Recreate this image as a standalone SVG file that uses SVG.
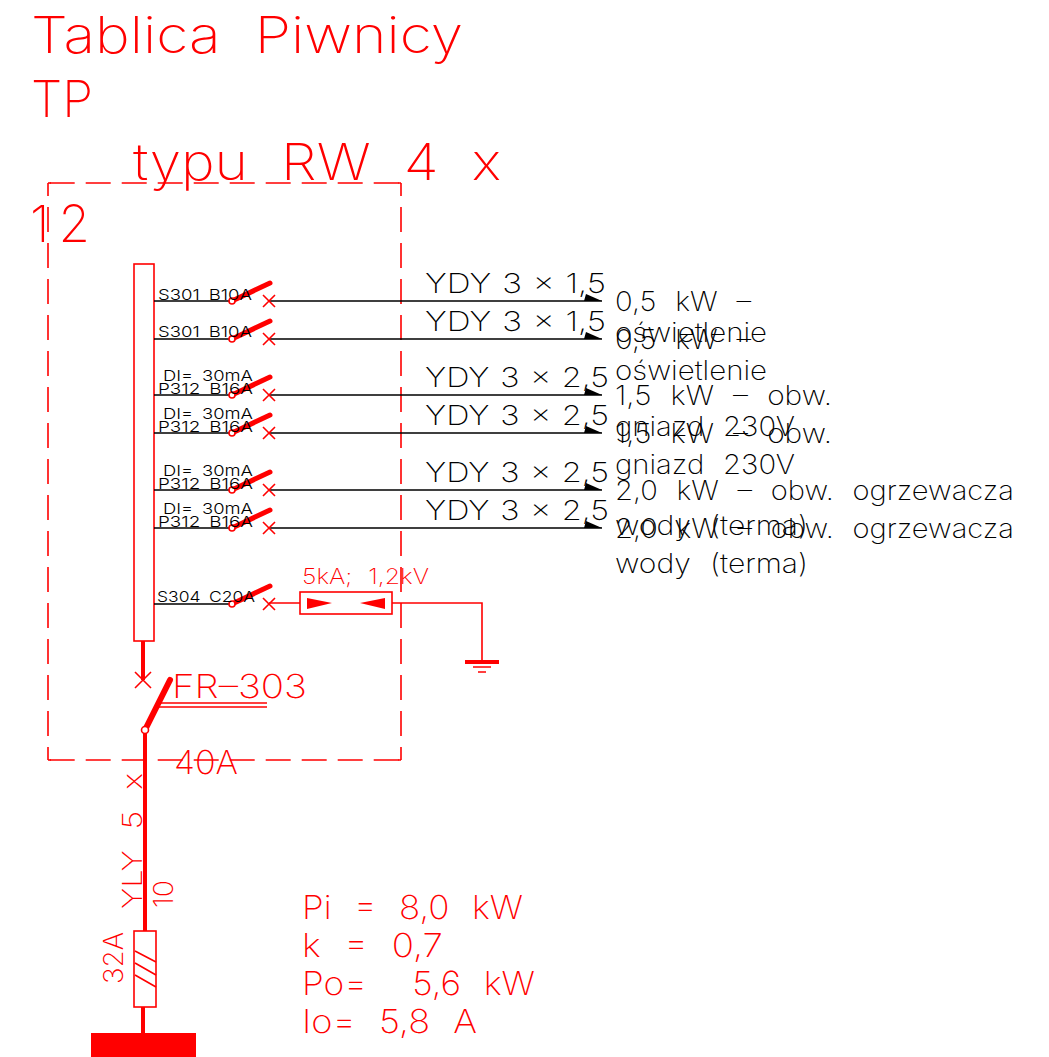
<svg xmlns="http://www.w3.org/2000/svg" width="1049" height="1057" viewBox="0 0 1049 1057">
<defs>
<style>
text{font-family:"Inter","Liberation Sans",Arial,sans-serif;font-weight:200;white-space:pre;word-spacing:.36em}
.r{fill:#ff0000}.k{fill:#000}
.t50{font-size:51px;word-spacing:.3em}.t35{font-size:33px}.t27{font-size:27px}.t21{font-size:21px}.t15{font-size:15px;font-weight:300;word-spacing:.2em}
.ydy{word-spacing:.05em}.tot{word-spacing:.36em}
.rl{stroke:#ff0000;fill:none;stroke-width:1.6}
.kl{stroke:#000;fill:none;stroke-width:1.5}
.dash{stroke:#ff0000;fill:none;stroke-width:1.6;stroke-dasharray:25 11}
.blade{stroke:#ff0000;fill:none;stroke-width:5;stroke-linecap:round}
.cut{stroke:#ff0000;fill:none;stroke-width:1.6}
.pivot{fill:#fff;stroke:#ff0000;stroke-width:1.6}
</style>
<g id="sw"><line class="blade" x1="232" y1="0" x2="270" y2="-18"/><circle class="pivot" cx="232" cy="0" r="3"/><path class="cut" d="M263 -6L275 6M263 6L275 -6"/></g>
<path id="ah" d="M584 0L586 -7L602 0Z" fill="#000"/>
</defs>
<g id="title">
<text class="r t50" x="31" y="53" textLength="432" lengthAdjust="spacingAndGlyphs">Tablica Piwnicy</text>
<text class="r t50" x="31" y="117" textLength="62" lengthAdjust="spacingAndGlyphs">TP</text>
<text class="r t50" x="133" y="180" textLength="368" lengthAdjust="spacingAndGlyphs">typu RW 4 x</text>
<text class="r t50" x="30" y="242" textLength="60" lengthAdjust="spacing">12</text>
</g>
<g id="enclosure">
<path class="dash" stroke-dashoffset="34.3" d="M48 183H401M48 760H401"/>
<path class="dash" stroke-dashoffset="12" d="M48 183V760M401 183V760"/>
<path class="rl" d="M48 183h3M398 183h3M48 760h3M398 760h3"/>
</g>
<g id="busbar"><rect class="rl" x="134" y="264" width="20" height="377"/></g>
<g id="connectors">
<path class="kl" d="M154 301H232M269 301H602M154 339H232M269 339H602M154 395H232M269 395H602M154 433H232M269 433H602M154 490H232M269 490H602M154 528H232M269 528H602M154 604H232"/>
<path class="rl" d="M269 603H300M392 603H482V662"/>
<path class="rl" style="stroke-width:4" d="M143 641V680M145 733V931M143 1007V1033"/>
<use href="#ah" y="301"/><use href="#ah" y="339"/><use href="#ah" y="395"/><use href="#ah" y="433"/><use href="#ah" y="490"/><use href="#ah" y="528"/>
</g>
<g id="c1"><use href="#sw" y="301"/><text class="k t15" x="158" y="300" textLength="94" lengthAdjust="spacingAndGlyphs">S301 B10A</text>
<text class="k t27 ydy" x="425" y="293" textLength="181" lengthAdjust="spacingAndGlyphs">YDY 3 x 1,5</text>
<text class="k t27" x="615" y="311" textLength="136" lengthAdjust="spacingAndGlyphs">0,5 kW –</text><text class="k t27" x="615" y="342" textLength="152" lengthAdjust="spacingAndGlyphs">oświetlenie</text></g>
<g id="c2"><use href="#sw" y="339"/><text class="k t15" x="158" y="337" textLength="94" lengthAdjust="spacingAndGlyphs">S301 B10A</text>
<text class="k t27 ydy" x="425" y="331" textLength="181" lengthAdjust="spacingAndGlyphs">YDY 3 x 1,5</text>
<text class="k t27" x="615" y="349" textLength="136" lengthAdjust="spacingAndGlyphs">0,5 kW –</text><text class="k t27" x="615" y="380" textLength="152" lengthAdjust="spacingAndGlyphs">oświetlenie</text></g>
<g id="c3"><use href="#sw" y="395"/><text class="k t15" x="163" y="381" textLength="90" lengthAdjust="spacingAndGlyphs">DI= 30mA</text><text class="k t15" x="158" y="394" textLength="95" lengthAdjust="spacingAndGlyphs">P312 B16A</text>
<text class="k t27 ydy" x="425" y="387" textLength="184" lengthAdjust="spacingAndGlyphs">YDY 3 x 2,5</text>
<text class="k t27" x="615" y="405" textLength="217" lengthAdjust="spacingAndGlyphs">1,5 kW – obw.</text><text class="k t27" x="615" y="436" textLength="180" lengthAdjust="spacingAndGlyphs">gniazd 230V</text></g>
<g id="c4"><use href="#sw" y="433"/><text class="k t15" x="163" y="419" textLength="90" lengthAdjust="spacingAndGlyphs">DI= 30mA</text><text class="k t15" x="158" y="432" textLength="95" lengthAdjust="spacingAndGlyphs">P312 B16A</text>
<text class="k t27 ydy" x="425" y="425" textLength="184" lengthAdjust="spacingAndGlyphs">YDY 3 x 2,5</text>
<text class="k t27" x="615" y="443" textLength="217" lengthAdjust="spacingAndGlyphs">1,5 kW – obw.</text><text class="k t27" x="615" y="474" textLength="180" lengthAdjust="spacingAndGlyphs">gniazd 230V</text></g>
<g id="c5"><use href="#sw" y="490"/><text class="k t15" x="163" y="476" textLength="90" lengthAdjust="spacingAndGlyphs">DI= 30mA</text><text class="k t15" x="158" y="489" textLength="95" lengthAdjust="spacingAndGlyphs">P312 B16A</text>
<text class="k t27 ydy" x="425" y="482" textLength="184" lengthAdjust="spacingAndGlyphs">YDY 3 x 2,5</text>
<text class="k t27" x="615" y="500" textLength="399" lengthAdjust="spacingAndGlyphs">2,0 kW – obw. ogrzewacza</text><text class="k t27" x="615" y="535" textLength="193" lengthAdjust="spacingAndGlyphs">wody (terma)</text></g>
<g id="c6"><use href="#sw" y="528"/><text class="k t15" x="163" y="514" textLength="90" lengthAdjust="spacingAndGlyphs">DI= 30mA</text><text class="k t15" x="158" y="527" textLength="95" lengthAdjust="spacingAndGlyphs">P312 B16A</text>
<text class="k t27 ydy" x="425" y="520" textLength="184" lengthAdjust="spacingAndGlyphs">YDY 3 x 2,5</text>
<text class="k t27" x="615" y="538" textLength="399" lengthAdjust="spacingAndGlyphs">2,0 kW – obw. ogrzewacza</text><text class="k t27" x="615" y="573" textLength="193" lengthAdjust="spacingAndGlyphs">wody (terma)</text></g>
<g id="c7"><use href="#sw" y="604"/><text class="k t15" x="157" y="602" textLength="98" lengthAdjust="spacingAndGlyphs">S304 C20A</text></g>
<g id="surge">
<rect class="rl" x="300" y="592" width="92" height="22"/>
<path class="r" d="M307 598L332 603L307 609Z"/><path class="r" d="M385 598L360 603L385 609Z"/>
<text class="r t21" x="302" y="584" textLength="127" lengthAdjust="spacingAndGlyphs">5kA; 1,2kV</text>
</g>
<g id="ground"><path class="rl" d="M473 667H491M478 672H486"/><path d="M465 662H499" stroke="#ff0000" stroke-width="4" fill="none"/></g>
<g id="main-switch">
<path class="cut" d="M135 672L151 688M135 688L151 672"/>
<line class="blade" x1="145" y1="730" x2="170" y2="680" style="stroke-width:6"/>
<path class="rl" d="M160 703H267M158 707H267"/>
<circle class="pivot" cx="145" cy="730" r="3.5"/>
<text class="r t35" x="172" y="698" textLength="135" lengthAdjust="spacingAndGlyphs">FR–303</text>
<text class="r t35" x="174" y="774" textLength="64" lengthAdjust="spacingAndGlyphs">40A</text>
</g>
<g id="cable">
<text class="r t27" transform="translate(142 909) rotate(-90)" textLength="136" lengthAdjust="spacingAndGlyphs">YLY 5 x</text>
<text class="r t27" transform="translate(173 908) rotate(-90)" textLength="28" lengthAdjust="spacingAndGlyphs">10</text>
</g>
<g id="fuse">
<rect class="rl" x="134" y="931" width="22" height="76"/>
<path class="rl" d="M135 951L156 962M135 963L156 975M135 975L156 987"/>
<text class="r t27" transform="translate(123 984) rotate(-90)" textLength="52" lengthAdjust="spacingAndGlyphs">32A</text>
</g>
<g id="supply"><rect x="91" y="1033" width="105" height="24" fill="#ff0000"/></g>
<g id="totals">
<text class="r t35 tot" x="302" y="919" textLength="221" lengthAdjust="spacingAndGlyphs">Pi = 8,0 kW</text>
<text class="r t35 tot" x="302" y="957" textLength="141" lengthAdjust="spacingAndGlyphs">k = 0,7</text>
<text class="r t35 tot" x="302" y="995" textLength="233" lengthAdjust="spacingAndGlyphs">Po=  5,6 kW</text>
<text class="r t35 tot" x="302" y="1033" textLength="175" lengthAdjust="spacingAndGlyphs">Io= 5,8 A</text>
</g>
</svg>
